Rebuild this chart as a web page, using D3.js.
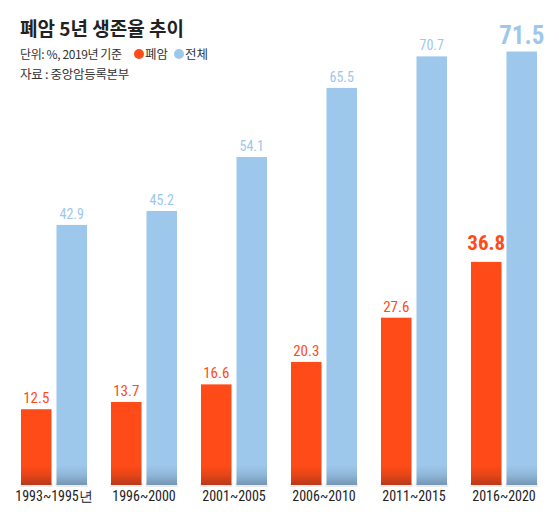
<!DOCTYPE html>
<html><head><meta charset="utf-8">
<script src="https://cdn.jsdelivr.net/npm/d3@7"></script>
<style>
body{margin:0;background:#fff;}
svg{display:block;}
</style></head>
<body>
<svg id="chart" width="559" height="516"></svg>
<script>
const categories = ["1993~1995년","1996~2000","2001~2005","2006~2010","2011~2015","2016~2020"];
const seriesNames = ["폐암","전체"];
const lungCancer = [12.5,13.7,16.6,20.3,27.6,36.8];
const overall = [42.9,45.2,54.1,65.5,70.7,71.5];
const title = "폐암 5년 생존율 추이";
const unitText = "단위: %, 2019년 기준";
const sourceText = "자료 : 중앙암등록본부";

const colors = {"폐암":"#FF4B17","전체":"#9DC8EC"};
const dark = {"폐암":"#B8391A","전체":"#7495B4"};
const numFont = "'Liberation Sans Narrow','Arial Narrow','Roboto Condensed','Liberation Sans',sans-serif";
const korFont = "'Noto Sans CJK KR','Noto Sans',sans-serif";

const svg = d3.select("#chart");
const defs = svg.append("defs");

const x0 = d3.scaleBand().domain(categories).range([21,537]).paddingInner(24/90).paddingOuter(0);
const x1 = d3.scaleBand().domain(seriesNames).range([0,x0.bandwidth()]).paddingInner(0.14);
const y = d3.scaleLinear().domain([0,80]).range([485,0]);

const data = categories.map((c,i)=>({cat:c, values:[{s:"폐암",v:lungCancer[i]},{s:"전체",v:overall[i]}], idx:i}));

const fadeH = 20;
const groups = svg.append("g").selectAll("g").data(data).join("g")
  .attr("transform",d=>`translate(${x0(d.cat)},0)`);

groups.each(function(d){
  const g = d3.select(this);
  d.values.forEach(e=>{
    const bx = x1(e.s), bw = x1.bandwidth();
    const top = y(e.v), bottom = y(0);
    const gid = "g_"+d.idx+"_"+e.s;
    const lg = defs.append("linearGradient").attr("id",gid)
      .attr("gradientUnits","userSpaceOnUse").attr("x1",0).attr("x2",0)
      .attr("y1",bottom-fadeH).attr("y2",bottom);
    lg.append("stop").attr("offset",0).attr("stop-color",colors[e.s]);
    lg.append("stop").attr("offset",0.5).attr("stop-color",d3.interpolateRgb(colors[e.s],dark[e.s])(0.35));
    lg.append("stop").attr("offset",1).attr("stop-color",dark[e.s]);
    g.append("rect").attr("x",bx-1).attr("y",bottom-2).attr("width",bw+2).attr("height",4)
      .attr("fill","#ddd").attr("opacity",0.6);
    g.append("rect").attr("x",bx).attr("y",top).attr("width",bw).attr("height",bottom-top)
      .attr("fill",`url(#${gid})`);
    const last = d.idx === categories.length-1;
    let fs, off, weight;
    if(last){ fs = e.s==="폐암"?21:25; off = e.s==="폐암"?12:8; weight="bold"; }
    else { fs = e.s==="폐암"?15:14; off = 6; weight="normal"; }
    g.append("text").attr("x",bx+bw/2).attr("y",top-off)
      .attr("text-anchor","middle").attr("font-family",numFont)
      .attr("font-size",fs).attr("font-weight",weight)
      .attr("fill",colors[e.s]).text(e.v.toFixed(1));
  });
});

const xAxis = d3.axisBottom(x0).tickSize(0).tickPadding(0);
const ax = svg.append("g").attr("transform","translate(0,490)").call(xAxis);
ax.select(".domain").remove();
ax.selectAll("text").attr("font-family",numFont).attr("font-size",14)
  .attr("fill","#222").attr("dy","0.71em").attr("y",1);

svg.append("text").attr("x",20).attr("y",36).attr("font-family",korFont)
  .attr("font-size",19).attr("font-weight","bold").attr("fill","#222").text(title);
svg.append("text").attr("x",20).attr("y",59).attr("font-family",korFont)
  .attr("font-size",12).attr("letter-spacing",-0.4).attr("fill","#333").text(unitText);
const leg = svg.append("g");
const legX = [139,179];
seriesNames.forEach((s,i)=>{
  leg.append("circle").attr("cx",legX[i]).attr("cy",54).attr("r",5).attr("fill",colors[s]);
  leg.append("text").attr("x",legX[i]+6).attr("y",59).attr("font-family",korFont)
    .attr("font-size",12.5).attr("fill","#333").text(s);
});
svg.append("text").attr("x",20).attr("y",79).attr("font-family",korFont)
  .attr("font-size",12.5).attr("letter-spacing",-0.3).attr("fill","#333").text(sourceText);
</script>
</body></html>
